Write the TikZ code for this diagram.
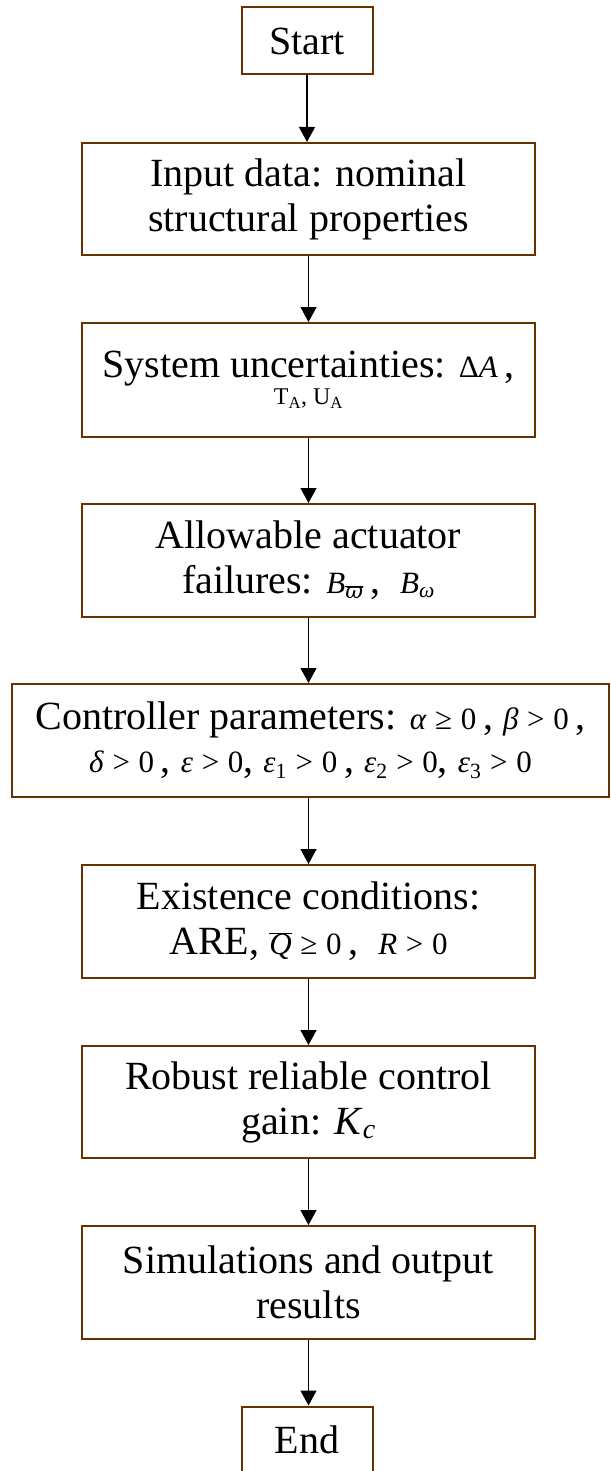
\documentclass[tikz,border=0pt]{standalone}
\usepackage{fontspec}
\setmainfont{Liberation Serif}
\newfontfamily\dvs{DejaVu Serif}
\usetikzlibrary{arrows.meta}
\definecolor{boxbrown}{RGB}{102,51,0}
\newcommand{\mth}[1]{{\fontsize{31}{36}\selectfont #1}}
\newcommand{\ovl}[1]{$\overline{\mbox{#1}}$}
\newcommand{\rel}[1]{\hspace{0.28em}#1\hspace{0.28em}}
\tikzset{
  box/.style={draw=boxbrown, line width=2pt, fill=white, align=center, inner sep=0pt,
    font=\fontsize{40}{45}\selectfont, minimum height=113pt, minimum width=453pt},
  term/.style={box, minimum width=131pt, minimum height=67pt},
  arr/.style={line width=1.2pt, -{Triangle[width=16pt,length=15pt]}},
}
\begin{document}
\begin{tikzpicture}[x=1pt,y=1pt]
\useasboundingbox (0,0) rectangle (610,-1471);
\node[term] (start) at (307,-41) {Start};
\node[box, minimum height=112pt] (input) at (308.5,-199) {Input data: nominal\\structural properties};
\node[box, minimum height=114pt] (sys) at (308.5,-380) {System uncertainties: \mth{Δ\textit{A}}\,,\\[-18pt]{\fontsize{24}{28}\selectfont T\textsubscript{A}, U\textsubscript{A}}};
\node[box] (fail) at (308.5,-560.5) {Allowable actuator\\failures: \mth{\textit{B}\textsubscript{\ovl{\dvs\itshape ϖ}}}\,,\ \ \mth{\textit{B}\textsubscript{\itshape ω}}};
\node[box, minimum width=597pt] (ctrl) at (310.5,-740.5) {Controller parameters: \mth{\textit{α}\rel{≥}0}\,, \mth{\textit{β}\rel{>}0}\,,\\[-2pt]\mth{\textit{δ}\rel{>}0}\,, \mth{\textit{ε}\rel{>}0}, \mth{\textit{ε}\textsubscript{1}\rel{>}0}\,, \mth{\textit{ε}\textsubscript{2}\rel{>}0}, \mth{\textit{ε}\textsubscript{3}\rel{>}0}};
\node[box] (exist) at (308.5,-921.5) {Existence conditions:\\ARE,\ \mth{\ovl{\itshape Q}\rel{≥}0}\,,\ \ \mth{\textit{R}\rel{>}0}};
\node[box, minimum height=112pt] (gain) at (308.5,-1102) {Robust reliable control\\gain: \textit{K}\textsubscript{\itshape c}};
\node[box] (sim) at (308.5,-1282.5) {Simulations and output\\results};
\node[term] (end) at (307,-1440) {End};
\draw[arr] (start.south) -- (start.south |- input.north);
\draw[arr] (input.south) -- (sys.north);
\draw[arr] (sys.south) -- (fail.north);
\draw[arr] (fail.south) -- (fail.south |- ctrl.north);
\draw[arr] (fail.south |- ctrl.south) -- (fail.south |- exist.north);
\draw[arr] (exist.south) -- (gain.north);
\draw[arr] (gain.south) -- (sim.north);
\draw[arr] (sim.south) -- (sim.south |- end.north);
\end{tikzpicture}
\end{document}
